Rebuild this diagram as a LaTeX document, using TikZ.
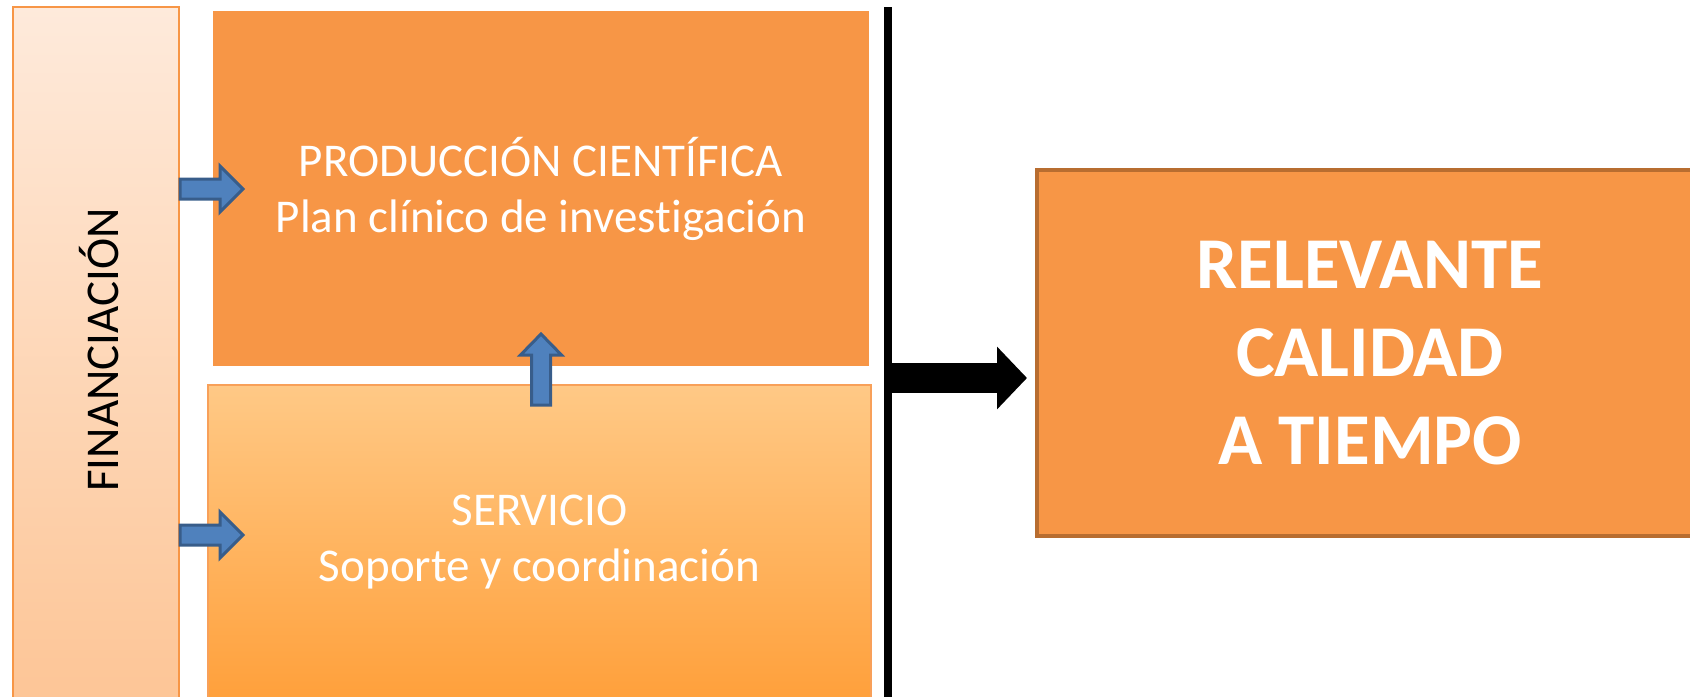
\documentclass[tikz,border=0pt]{standalone}
\usepackage{fontspec}
\setmainfont{Carlito}[Ligatures={NoCommon}]
\usetikzlibrary{arrows.meta,calc,positioning}
\definecolor{boxOrange}{HTML}{F79646}
\definecolor{boxEdge}{HTML}{B86D30}
\definecolor{finTop}{HTML}{FEEADB}
\definecolor{finBot}{HTML}{FDC596}
\definecolor{servTop}{HTML}{FFC986}
\definecolor{servBot}{HTML}{FFA03B}
\definecolor{arrFill}{HTML}{4F81BD}
\definecolor{arrEdge}{HTML}{385D8A}
\tikzset{
  box/.style={rectangle, inner sep=0pt, text=white, align=center},
  blockarrow/.style={fill=arrFill, draw=arrEdge, line width=1.5pt, line join=miter},
  bigarrow/.style={line width=15pt, -{Triangle[length=15pt,width=30.5pt]}}
}
\newcommand{\hblock}[2]{%
  \draw[blockarrow] let \p1=(#1), \p2=(#2) in
    (\x1,\y1+5pt) -- (\x2-11.5pt,\y1+5pt) -- (\x2-11.5pt,\y1+11.5pt) -- (\x2,\y1)
    -- (\x2-11.5pt,\y1-11.5pt) -- (\x2-11.5pt,\y1-5pt) -- (\x1,\y1-5pt) -- cycle;}
\newcommand{\vblock}[2]{%
  \draw[blockarrow] let \p1=(#1), \p2=(#2) in
    (\x1-4.75pt,\y1) -- (\x1-4.75pt,\y2-10.5pt) -- (\x1-10.25pt,\y2-10.5pt) -- (\x1,\y2)
    -- (\x1+10.25pt,\y2-10.5pt) -- (\x1+4.75pt,\y2-10.5pt) -- (\x1+4.75pt,\y1) -- cycle;}
\begin{document}
\begin{tikzpicture}[x=0.5pt,y=-0.5pt]
    \useasboundingbox (0,0) rectangle (1690,696);
    % boxes
    \node[box, draw=boxOrange, line width=1pt, top color=finTop, bottom color=finBot,
          minimum width=83pt, minimum height=349pt] (fin) at (96,356) {};
    \node[rotate=90, font=\fontsize{23.5}{28}\selectfont] (finText) at (99,350) {FINANCIACIÓN};
    \node[box, fill=boxOrange, minimum width=328pt, minimum height=177.5pt,
          font=\fontsize{23.5}{28}\selectfont] (prod) at (541,188.5)
          {PRODUCCIÓN CIENTÍFICA\\Plan clínico de investigación};
    \node[box, draw=boxOrange!90!white, line width=0.75pt, top color=servTop, bottom color=servBot,
          minimum width=331.5pt, minimum height=157.5pt,
          font=\fontsize{23.5}{28}\selectfont] (serv) at (539.5,542.5)
          {SERVICIO\\Soporte y coordinación};
    \node[box, fill=boxOrange, draw=boxEdge, line width=2pt, minimum width=333pt, minimum height=183pt,
          font=\fontsize{36.5}{44}\bfseries] (res) at (1370,353)
          {RELEVANTE\\CALIDAD\\A TIEMPO};
    % divider
    \coordinate (lineTop) at (888,7);
    \coordinate (lineBot) at (888,700);
    \draw[line width=4pt] (lineTop) -- (lineBot);
    % arrows
    \coordinate (tipProd) at (243,189);
    \coordinate (tipServ) at (243,535);
    \coordinate (upStart) at (541,405);
    \coordinate (upTip) at (541,334);
    \coordinate (resTip) at (1027,378);
    \hblock{fin.east |- tipProd}{tipProd}
    \hblock{fin.east |- tipServ}{tipServ}
    \vblock{upStart}{upTip}
    \draw[bigarrow] (lineTop |- resTip) -- (resTip);
\end{tikzpicture}
\end{document}
